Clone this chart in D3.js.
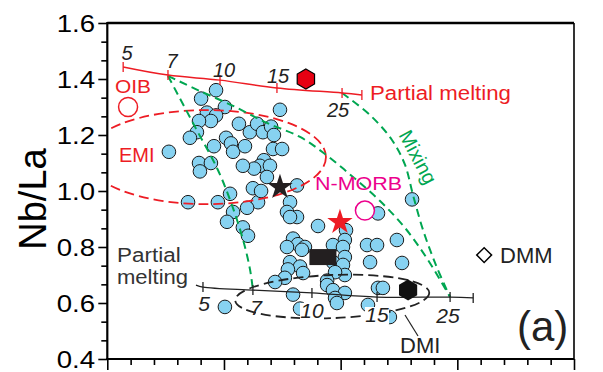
<!DOCTYPE html>
<html>
<head>
<meta charset="utf-8">
<script src="https://cdn.jsdelivr.net/npm/d3@7"></script>
<style>
  html, body { margin: 0; padding: 0; background: #fff; }
  svg { display: block; font-family: "Liberation Sans", Arial, Helvetica, sans-serif; }
</style>
</head>
<body>
<svg id="chart" width="603" height="372"></svg>
<script>
// ---- data -------------------------------------------------------------
const yTicks = [0.4, 0.6, 0.8, 1.0, 1.2, 1.4, 1.6];
const xMajorTicks = [0, 5, 10, 15, 20];

// sample compositions [x, Nb/La]
const samples = [
  [4.66,1.36],[4.02,1.33],[5.04,1.30],[4.27,1.28],[4.66,1.27],[4.44,1.25],[3.93,1.25],
  [3.84,1.21],[3.54,1.19],[2.64,1.14],[4.57,1.16],[5.09,1.19],[5.30,1.17],[5.39,1.14],
  [5.90,1.16],[5.64,1.24],[6.11,1.21],[6.42,1.24],[6.67,1.21],[7.02,1.23],[7.40,1.29],
  [7.14,1.20],[7.10,1.15],[7.49,1.15],[6.71,1.11],[6.54,1.09],[6.29,1.08],[5.81,1.09],
  [6.97,1.09],[3.93,1.10],[4.44,1.10],[3.97,1.07],[6.84,1.05],[6.24,1.01],[8.13,1.02],
  [3.46,0.96],[5.26,0.99],[4.74,0.96],[6.46,0.96],[5.99,0.94],[5.39,0.925],[5.13,0.89],
  [5.81,0.87],[6.03,0.84],[6.59,1.00],[7.83,0.96],[7.70,0.925],[8.13,0.907],[7.83,0.907],
  [9.03,0.875],[7.96,0.83],[8.17,0.81],[8.47,0.80],[7.70,0.80],[8.34,0.79],[10.23,0.86],
  [11.60,0.92],[10.18,0.825],[9.67,0.807],[10.10,0.80],[11.13,0.807],[11.56,0.807],
  [10.18,0.764],[11.26,0.746],[12.63,0.743],[12.41,0.825],[7.83,0.746],[8.26,0.73],
  [7.74,0.72],[7.61,0.69],[7.19,0.675],[8.39,0.707],[9.67,0.746],[10.10,0.736],
  [10.18,0.70],[9.76,0.71],[9.42,0.68],[9.42,0.664],[9.67,0.646],[10.18,0.636],
  [9.76,0.618],[7.96,0.63],[8.26,0.58],[9.84,0.60],[11.60,0.654],[11.81,0.654],
  [11.17,0.593],[12.11,0.55],[5.04,0.586],[13.06,0.97]
];

// partial melting of a garnet-bearing source (red) and spinel source (black)
const meltRedPct = ["5", "7", "10", "15", "25", ""];
const meltRed = [[0.68,1.443],[2.60,1.414],[4.83,1.396],[7.27,1.368],[10.06,1.35],[10.91,1.343]];
const meltBlackPct = ["", "5", "7", "10", "15", "25", ""];
const meltBlack = [[3.80,0.664],[4.10,0.657],[6.24,0.646],[8.77,0.636],[11.56,0.621],[14.69,0.621],[15.68,0.618]];

// mixing curves between melts
const mixA = [[2.60,1.411],[3.76,1.229],[4.74,1.075],[5.34,0.950],[5.82,0.825],[6.12,0.718],[6.24,0.646]];
const mixB = [[2.60,1.411],[3.97,1.357],[5.39,1.304],[6.84,1.243],[8.26,1.193],[9.33,1.132],
              [10.53,1.05],[11.69,0.964],[12.76,0.868],[13.74,0.754],[14.69,0.621]];
const mixC = [[10.06,1.35],[11.26,1.271],[12.20,1.182],[12.76,1.093],[13.10,0.986],
              [13.53,0.861],[14.08,0.736],[14.69,0.621]];

// reservoir fields: centre, half-width, half-height (data units), tilt (deg)
const emiField = { c: [4.23, 1.121], r: [5.14, 0.168], tilt: 0 };
const dmiField = { c: [9.64, 0.623], r: [4.16, 0.077], tilt: -2.3 };

// end-members
const oib = [0.89, 1.30];
const nmorb = [11.04, 0.93];
const dmm = [16.15, 0.771];
const redHex = [8.51, 1.40];
const blackHex = [12.89, 0.646];
const blackStar = [7.40, 1.014];
const redStar = [9.97, 0.889];
const blackRect = [9.24, 0.764];

// ---- layout -----------------------------------------------------------
const RED = "#ed1c24", GREEN = "#00a651", MAG = "#ec008c", BLUE = "#87d2f1";
const svg = d3.select("#chart");
const x = d3.scaleLinear().domain([0, 20]).range([107.3, 574]);
const y = d3.scaleLinear().domain([0.4, 1.6]).range([359, 23]);
const [x0, x1] = x.range(), [y0, y1] = [y.range()[1], y.range()[0]];

svg.append("defs").append("clipPath").attr("id", "plot")
  .append("rect").attr("x", x0).attr("y", y0).attr("width", x1 - x0).attr("height", y1 - y0);

function label(g, px, py, txt, o = {}) {
  const t = g.append("text")
    .attr("transform", `translate(${px},${py})` + (o.rot ? ` rotate(${o.rot})` : "") + ` scale(${o.sx || 1},1)`)
    .attr("font-size", o.size || 20)
    .attr("fill", o.fill || "#000")
    .attr("text-anchor", o.anchor || "start")
    .text(txt);
  if (o.italic) t.attr("font-style", "italic");
  return t;
}

// ---- axes -------------------------------------------------------------
const minorY = d3.range(0.4, 1.6001, 0.2 / 3).filter(v => !yTicks.some(t => Math.abs(t - v) < 1e-6));
const axY = svg.append("g").attr("transform", `translate(${x0},0)`);
axY.call(d3.axisLeft(y).tickValues(yTicks).tickSize(9).tickFormat(""));
axY.append("g").call(d3.axisLeft(y).tickValues(minorY).tickSize(6).tickFormat(""));
axY.selectAll("path.domain").remove();
axY.selectAll("line").attr("stroke", "#000").attr("stroke-width", 1.6);

const axX = svg.append("g").attr("transform", `translate(0,${y1})`);
axX.call(d3.axisBottom(x).tickValues(xMajorTicks).tickSize(11).tickFormat(""));
axX.append("g").call(d3.axisBottom(x).tickValues(d3.range(0, 21).filter(v => v % 5)).tickSize(6).tickFormat(""));
axX.selectAll("path.domain").remove();
axX.selectAll("line").attr("stroke", "#000").attr("stroke-width", 1.6);

yTicks.forEach(v => label(svg, 95, y(v) + 8.5, v.toFixed(1), { size: 24, anchor: "end", sx: 1.15 }));
label(svg, 46, 199, "Nb/La", { size: 38, anchor: "middle", rot: -90 });

// ---- samples ----------------------------------------------------------
const plot = svg.append("g").attr("clip-path", "url(#plot)");
plot.selectAll("circle.s").data(samples).join("circle")
  .attr("class", "s")
  .attr("cx", d => x(d[0])).attr("cy", d => y(d[1])).attr("r", 6.8)
  .attr("fill", BLUE).attr("stroke", "#1a1a1a").attr("stroke-width", 1);

// ---- fields and curves ------------------------------------------------
function ellipse(f, color, dash) {
  const cx = x(f.c[0]), cy = y(f.c[1]);
  plot.append("ellipse")
    .attr("cx", cx).attr("cy", cy)
    .attr("rx", x(f.c[0] + f.r[0]) - cx).attr("ry", y(f.c[1] - f.r[1]) - cy)
    .attr("transform", `rotate(${f.tilt},${cx},${cy})`)
    .attr("fill", "none").attr("stroke", color).attr("stroke-width", 1.8)
    .attr("stroke-dasharray", dash);
}
ellipse(emiField, RED, "10,5");
ellipse(dmiField, "#222", "10,5");

const line = d3.line().x(d => x(d[0])).y(d => y(d[1])).curve(d3.curveCatmullRom);
[mixA, mixB, mixC].forEach(c =>
  plot.append("path").attr("d", line(c)).attr("fill", "none")
    .attr("stroke", GREEN).attr("stroke-width", 2).attr("stroke-dasharray", "8,5"));

function meltCurve(pts, color, width) {
  plot.append("path").attr("d", line(pts)).attr("fill", "none")
    .attr("stroke", color).attr("stroke-width", width);
  plot.selectAll(null).data(pts.slice(1)).join("line")
    .attr("x1", d => x(d[0])).attr("x2", d => x(d[0]))
    .attr("y1", d => y(d[1]) - 5).attr("y2", d => y(d[1]) + 5)
    .attr("stroke", color).attr("stroke-width", 1.3);
}
meltCurve(meltRed, RED, 1.5);
meltCurve(meltBlack, "#222", 1.3);
// tick at the start of the red curve
plot.append("line")
  .attr("x1", x(meltRed[0][0])).attr("x2", x(meltRed[0][0]))
  .attr("y1", y(meltRed[0][1]) - 5).attr("y2", y(meltRed[0][1]) + 5)
  .attr("stroke", RED).attr("stroke-width", 1.3);

// percent labels
const redLab = [[127, 60], [172, 68], [224, 77], [278, 83], [338, 117]];
redLab.forEach((p, i) => label(svg, p[0], p[1], meltRedPct[i], { size: 20, anchor: "middle", italic: true, fill: "#222" }));
const blackLab = [[204, 311], [256, 315], [312, 318], [377, 322], [448, 323]];
blackLab.forEach((p, i) => {
  const b = svg.append("g");
  b.append("rect").attr("x", p[0] - 12).attr("y", p[1] - 15).attr("width", 24).attr("height", 17).attr("fill", "#fff")
    .attr("opacity", meltBlackPct[i + 1].length > 1 ? 1 : 0);
  label(b, p[0], p[1], meltBlackPct[i + 1], { size: 21, anchor: "middle", italic: true, fill: "#222" });
});

// ---- end-member symbols -----------------------------------------------
function hexPath(r) {
  return d3.line()(d3.range(6).map(i => {
    const a = Math.PI / 3 * i;
    return [r * Math.sin(a), -r * Math.cos(a)];
  })) + "Z";
}
svg.append("path").attr("d", hexPath(10)).attr("transform", `translate(${x(redHex[0])},${y(redHex[1])})`)
  .attr("fill", "#e60012").attr("stroke", "#000").attr("stroke-width", 1.2);
svg.append("path").attr("d", hexPath(10.5)).attr("transform", `translate(${x(blackHex[0])},${y(blackHex[1])})`)
  .attr("fill", "#111");
const star = d3.symbol().type(d3.symbolStar).size(200);
svg.append("path").attr("d", star()).attr("transform", `translate(${x(blackStar[0])},${y(blackStar[1])})`).attr("fill", "#231f20");
svg.append("path").attr("d", star()).attr("transform", `translate(${x(redStar[0])},${y(redStar[1])})`).attr("fill", RED);
svg.append("rect").attr("x", x(blackRect[0]) - 13.5).attr("y", y(blackRect[1]) - 8)
  .attr("width", 27).attr("height", 16).attr("fill", "#231f20");
svg.append("circle").attr("cx", x(oib[0])).attr("cy", y(oib[1])).attr("r", 9.5)
  .attr("fill", "#fff").attr("stroke", RED).attr("stroke-width", 1.5);
svg.append("circle").attr("cx", x(nmorb[0])).attr("cy", y(nmorb[1])).attr("r", 9.5)
  .attr("fill", "#fff").attr("stroke", MAG).attr("stroke-width", 1.5);
svg.append("path").attr("d", d3.symbol().type(d3.symbolSquare).size(110)())
  .attr("transform", `translate(${x(dmm[0])},${y(dmm[1])}) rotate(45)`)
  .attr("fill", "#fff").attr("stroke", "#000").attr("stroke-width", 1.5);

// ---- annotations ------------------------------------------------------
label(svg, 370, 100, "Partial melting", { size: 21, fill: RED, sx: 1.06 });
label(svg, 115, 93, "OIB", { size: 19, fill: RED, sx: 1.1 });
label(svg, 119, 162, "EMI", { size: 20, fill: RED });
label(svg, 315, 190, "N-MORB", { size: 19, fill: MAG, sx: 1.13 });
label(svg, 500, 263, "DMM", { size: 22, fill: "#222" });
label(svg, 400, 353, "DMI", { size: 22, fill: "#222" });
label(svg, 117, 262, "Partial", { size: 21, fill: "#333", sx: 1.07 });
label(svg, 117, 284, "melting", { size: 21, fill: "#333", sx: 1.05 });
label(svg, 418, 157, "Mixing", { size: 20, fill: GREEN, anchor: "middle", rot: 62 }).attr("dy", "0.35em");
label(svg, 517, 341, "(a)", { size: 42, fill: "#222" });
svg.append("line").attr("x1", 405).attr("y1", 315).attr("x2", 418).attr("y2", 336)
  .attr("stroke", "#222").attr("stroke-width", 1.2);

// ---- frame ------------------------------------------------------------
svg.append("line").attr("x1", x0).attr("x2", x1).attr("y1", y0).attr("y2", y0).attr("stroke", "#000").attr("stroke-width", 2.5);
svg.append("line").attr("x1", x1).attr("x2", x1).attr("y1", y0).attr("y2", y1).attr("stroke", "#000").attr("stroke-width", 1.6);
svg.append("line").attr("x1", x0).attr("x2", x0).attr("y1", y0 - 1).attr("y2", y1 + 1).attr("stroke", "#000").attr("stroke-width", 2.2);
svg.append("line").attr("x1", x0 - 1).attr("x2", x1).attr("y1", y1).attr("y2", y1).attr("stroke", "#000").attr("stroke-width", 2.2);
</script>
</body>
</html>
